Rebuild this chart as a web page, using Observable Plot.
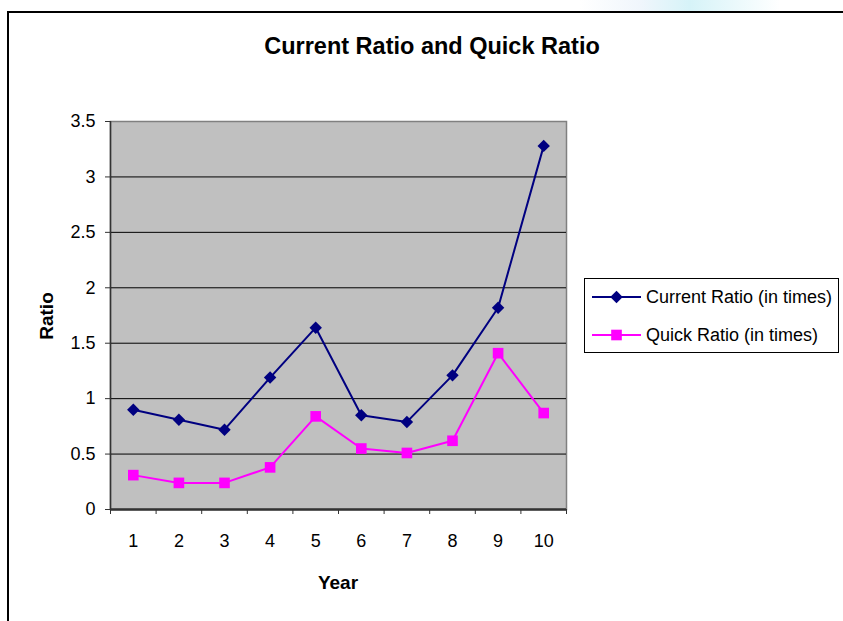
<!DOCTYPE html>
<html>
<head>
<meta charset="utf-8">
<script src="https://cdn.jsdelivr.net/npm/d3@7"></script>
<script src="https://cdn.jsdelivr.net/npm/@observablehq/plot@0.6"></script>
<style>
  html, body { margin: 0; padding: 0; background: #fff; }
  #chart { position: relative; width: 843px; height: 621px; overflow: hidden; }
</style>
</head>
<body>
<div id="chart"></div>
<script>
const title = "Current Ratio and Quick Ratio";
const years = [1, 2, 3, 4, 5, 6, 7, 8, 9, 10];
const currentRatio = [0.90, 0.81, 0.72, 1.19, 1.64, 0.85, 0.79, 1.21, 1.82, 3.28];
const quickRatio = [0.31, 0.24, 0.24, 0.38, 0.84, 0.55, 0.51, 0.62, 1.41, 0.87];
const yTicks = [0, 0.5, 1, 1.5, 2, 2.5, 3, 3.5];
const seriesNames = ["Current Ratio (in times)", "Quick Ratio (in times)"];
const xLabel = "Year";
const yLabel = "Ratio";

const rows = years.map((yr, i) => ({year: yr, current: currentRatio[i], quick: quickRatio[i]}));
const xDomain = [years[0] - 0.5, years[years.length - 1] + 0.5];
const bounds = [xDomain[0], ...years.map(d => d + 0.5)];
const font = "'Liberation Sans', Arial, Helvetica, sans-serif";
const navy = "#000080", magenta = "#FF00FF";

const svg = Plot.plot({
  width: 843,
  height: 621,
  marginLeft: 110,
  marginRight: 277,
  marginTop: 121,
  marginBottom: 112,
  style: {fontFamily: font, fontSize: "18px", background: "white", color: "black", overflow: "hidden"},
  x: {domain: xDomain},
  y: {domain: [yTicks[0], yTicks[yTicks.length - 1]]},
  marks: [
    Plot.frame({fill: "#C0C0C0", stroke: "#808080", strokeWidth: 1.5}),
    Plot.ruleY(yTicks.filter(d => d > 0 && d < yTicks[yTicks.length - 1]), {stroke: "#000", strokeWidth: 1}),
    Plot.ruleX([xDomain[0]], {stroke: "#333", strokeWidth: 1.5}),
    Plot.ruleY([0], {stroke: "#333", strokeWidth: 2.5}),
    Plot.axisY(yTicks, {tickSize: 5, tickPadding: 10, tickFormat: d => String(d), fontSize: 18, label: null, stroke: "#333"}),
    Plot.axisX(years, {tickSize: 0, tickPadding: 25, fontSize: 18, label: null}),
    Plot.axisX(bounds, {tickSize: 5, tickFormat: () => "", label: null, stroke: "#333"}),
    Plot.line(rows, {x: "year", y: "current", stroke: navy, strokeWidth: 2}),
    Plot.dot(rows, {x: "year", y: "current", symbol: "diamond2", fill: navy, r: 5.6}),
    Plot.line(rows, {x: "year", y: "quick", stroke: magenta, strokeWidth: 2}),
    Plot.dot(rows, {x: "year", y: "quick", symbol: "square", fill: magenta, r: 6})
  ]
});

const s = d3.select(svg);

// faint decorative gradient at top
const defs = s.insert("defs", ":first-child");
const g = defs.append("linearGradient").attr("id", "topglow").attr("x1", 0).attr("x2", 1).attr("y1", 0).attr("y2", 0);
g.append("stop").attr("offset", "0%").attr("stop-color", "#ffffff");
g.append("stop").attr("offset", "30%").attr("stop-color", "#f0f6fc");
g.append("stop").attr("offset", "55%").attr("stop-color", "#d6f3f8");
g.append("stop").attr("offset", "100%").attr("stop-color", "#ffffff");
s.append("rect").attr("x", 580).attr("y", 0).attr("width", 200).attr("height", 11).attr("fill", "url(#topglow)");

// outer chart frame
s.append("rect").attr("x", 8).attr("y", 12).attr("width", 900).attr("height", 700)
  .attr("fill", "none").attr("stroke", "#000").attr("stroke-width", 2);

// title
s.append("text").attr("x", 432).attr("y", 54).attr("text-anchor", "middle")
  .attr("font-family", font).attr("font-size", 23.5).attr("font-weight", "bold").text(title);

// axis titles
s.append("text").attr("x", 338).attr("y", 589).attr("text-anchor", "middle")
  .attr("font-family", font).attr("font-size", 19).attr("font-weight", "bold").text(xLabel);
s.append("text").attr("transform", "translate(53,316) rotate(-90)").attr("text-anchor", "middle")
  .attr("font-family", font).attr("font-size", 19).attr("font-weight", "bold").text(yLabel);

// legend
const lg = s.append("g");
lg.append("rect").attr("x", 584.5).attr("y", 278.5).attr("width", 254).attr("height", 74)
  .attr("fill", "white").attr("stroke", "#000").attr("stroke-width", 1);
const items = [
  {name: seriesNames[0], color: navy, sym: d3.symbolDiamond2, size: 5.6 * 5.6 * Math.PI, y: 297},
  {name: seriesNames[1], color: magenta, sym: d3.symbolSquare, size: 6 * 6 * Math.PI, y: 335}
];
for (const it of items) {
  lg.append("line").attr("x1", 592).attr("x2", 641).attr("y1", it.y).attr("y2", it.y)
    .attr("stroke", it.color).attr("stroke-width", 2);
  lg.append("path").attr("transform", `translate(616.5,${it.y})`)
    .attr("d", d3.symbol(it.sym, it.size)()).attr("fill", it.color);
  lg.append("text").attr("x", 646).attr("y", it.y).attr("dy", "0.35em").attr("text-anchor", "start")
    .attr("font-family", font).attr("font-size", 18).text(it.name);
}

document.getElementById("chart").appendChild(svg);
</script>
</body>
</html>
